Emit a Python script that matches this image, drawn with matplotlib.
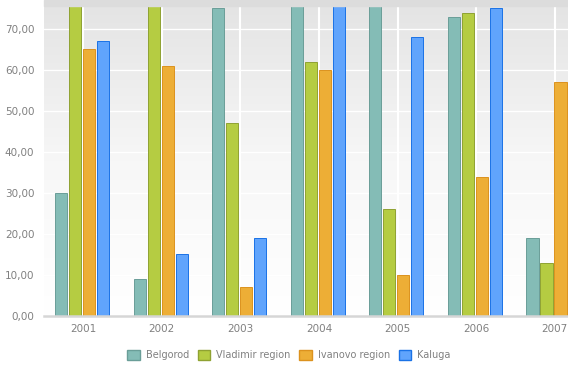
import matplotlib.pyplot as plt
import numpy as np
from matplotlib.patches import Rectangle, Patch

years = ['2001', '2002', '2003', '2004', '2005', '2006', '2007']
series = ['Belgorod', 'Vladimir region', 'Ivanovo region', 'Kaluga']
# values above the top of the plot are clipped in the picture
belgorod = [30, 9, 75, 80, 80, 73, 19]
vladimir = [80, 80, 47, 62, 26, 74, 13]
ivanovo = [65, 61, 7, 60, 10, 34, 57]
kaluga = [67, 15, 19, 80, 68, 75, 40]

fills = ['#84bcb6', '#b5cc42', '#edae36', '#60a4fc']
edges = ['#6a9e98', '#8fa232', '#dc921e', '#1a72e6']

fig = plt.figure(figsize=(5.68, 3.70), dpi=100)
W, H = 568, 370
ax = fig.add_axes([44 / W, (H - 316) / H, 550 / W, 310 / H])

# darker strip above the plot area
fig.patches.append(Rectangle((44 / W, (H - 6) / H), 1, 6 / H,
                             transform=fig.transFigure, color='#dcdcdc', zorder=0))

# vertical gradient background
grad = np.linspace(0, 1, 256).reshape(-1, 1)
ax.imshow(grad, extent=[0, 1, 0, 1], transform=ax.transAxes, aspect='auto',
          cmap=plt.matplotlib.colors.LinearSegmentedColormap.from_list(
              'bg', ['#ffffff', '#f7f7f7', '#e4e4e4']),
          origin='lower', zorder=0)

x = np.arange(len(years))
cat = 550 / 7
slot = 14 / cat
bw = 12.2 / cat
data = [belgorod, vladimir, ivanovo, kaluga]
for i, vals in enumerate(data):
    ax.bar(x + (i - 1.5) * slot - 1.2 / cat, vals, width=bw, color=fills[i],
           edgecolor=edges[i], linewidth=0.7, zorder=3)

ax.set_xlim(-0.5, 6.5)
ax.set_ylim(0, 75.6)
ax.set_yticks(range(0, 80, 10))
ax.set_yticklabels([f'{v},00' for v in range(0, 80, 10)])
ax.set_xticks(x)
ax.set_xticklabels(years)
ax.tick_params(length=0, colors='#808080', labelsize=7.5)
ax.tick_params(axis='y', pad=7)
ax.tick_params(axis='x', pad=6)

for v in range(10, 80, 10):
    ax.axhline(v, color='white', lw=1, zorder=1)
for xi in x:
    ax.axvline(xi, color='white', lw=1.5, zorder=1)

for s in ['top', 'right', 'left']:
    ax.spines[s].set_visible(False)
ax.spines['bottom'].set_color('#d6d6d6')
ax.spines['bottom'].set_linewidth(1.8)
ax.spines['bottom'].set_zorder(4)

handles = [Patch(facecolor=fills[i], edgecolor=edges[i], label=series[i]) for i in range(4)]
fig.legend(handles=handles, loc='center', bbox_to_anchor=(289 / W, (H - 355) / H),
           ncol=4, frameon=False, fontsize=7, labelcolor='#808080',
           handlelength=1.3, handleheight=1.3, handletextpad=0.6, columnspacing=0.9)

fig.savefig('out.png', dpi=100)
